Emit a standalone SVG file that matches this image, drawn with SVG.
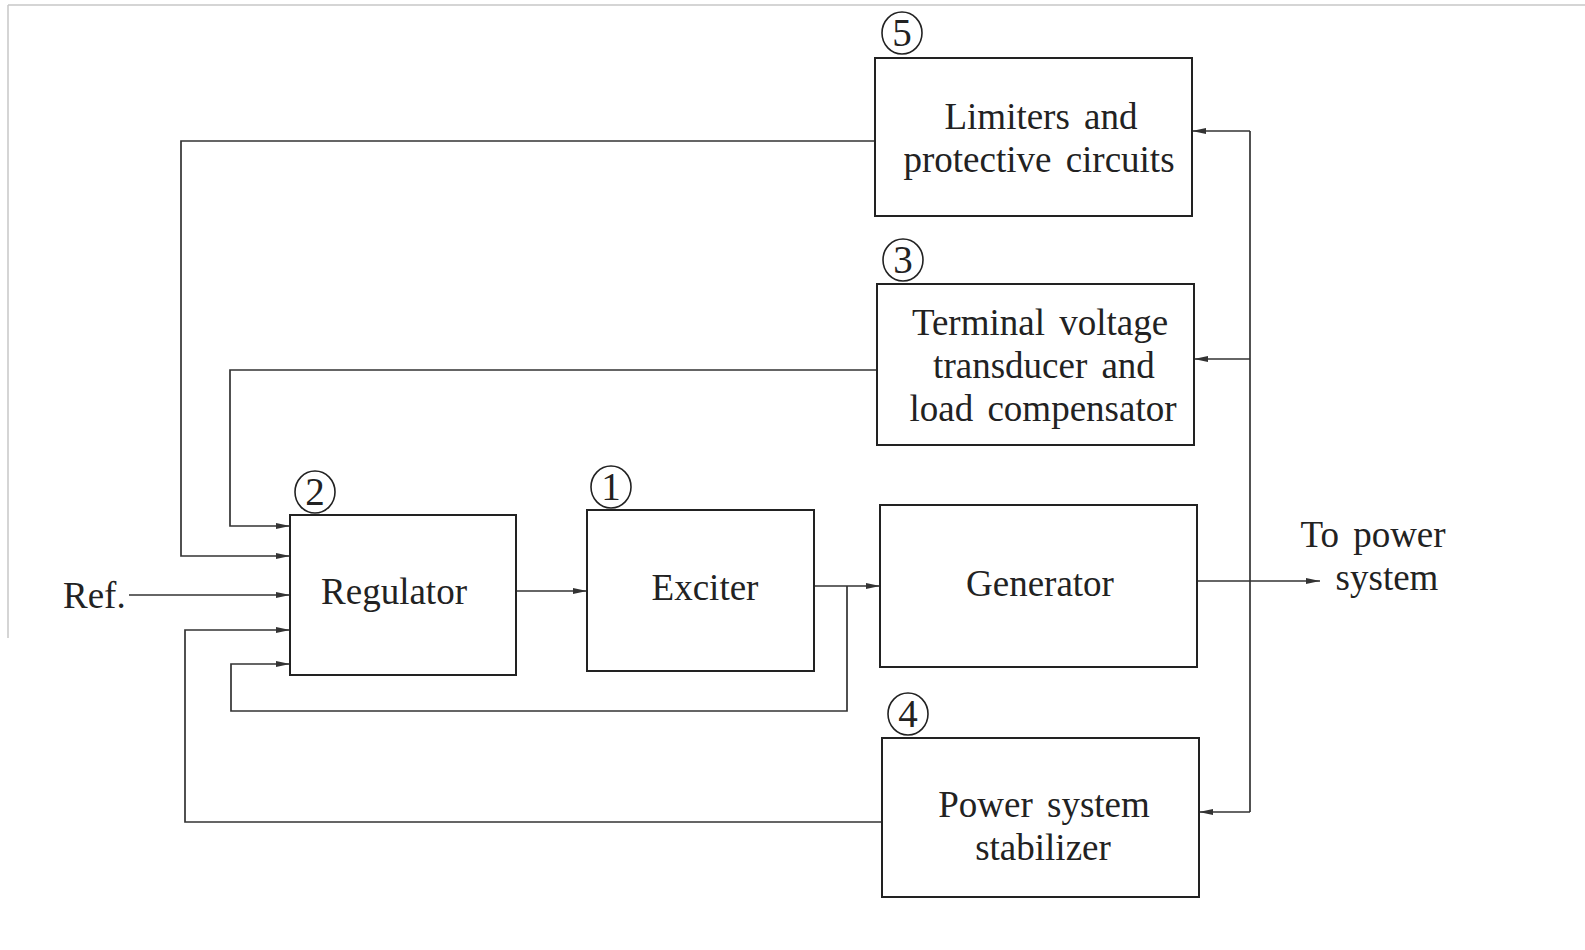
<svg xmlns="http://www.w3.org/2000/svg" width="1585" height="950" viewBox="0 0 1585 950">
<style>
.box{fill:#fff;stroke:#222;stroke-width:2}
.ln{fill:none;stroke:#333;stroke-width:1.7}
.t{font-family:"Liberation Serif","Times New Roman",serif;font-size:37px;fill:#222;text-anchor:middle;word-spacing:5px}
.num{font-family:"Liberation Serif","Times New Roman",serif;font-size:39px;fill:#222;text-anchor:middle}
.circ{fill:none;stroke:#222;stroke-width:1.6}
.scan{stroke:#c8c8c8;stroke-width:1.5;fill:none}
</style>
<defs>
<marker id="arr" markerWidth="15" markerHeight="8" refX="14" refY="4" orient="auto" markerUnits="userSpaceOnUse">
<path d="M0,1 L14,4 L0,7 Z" fill="#333"/>
</marker>
</defs>
<rect width="1585" height="950" fill="#fff"/>
<path class="scan" d="M8,5 H1585 M8,5 V638"/>

<g id="connectors">
<path class="ln" d="M875,141 H181 V556 H290" marker-end="url(#arr)"/>
<path class="ln" d="M877,370 H230 V526 H290" marker-end="url(#arr)"/>
<path class="ln" d="M129,595 H290" marker-end="url(#arr)"/>
<path class="ln" d="M882,822 H185 V630 H290" marker-end="url(#arr)"/>
<path class="ln" d="M515,591 H587" marker-end="url(#arr)"/>
<path class="ln" d="M814,586 H880" marker-end="url(#arr)"/>
<path class="ln" d="M847,586 V711 H231 V664 H290" marker-end="url(#arr)"/>
<path class="ln" d="M1197,581 H1320" marker-end="url(#arr)"/>
<path class="ln" d="M1250,131 V812"/>
<path class="ln" d="M1250,131 H1192" marker-end="url(#arr)"/>
<path class="ln" d="M1250,359 H1194" marker-end="url(#arr)"/>
<path class="ln" d="M1250,812 H1199" marker-end="url(#arr)"/>
</g>

<g id="limiters">
<rect class="box" x="875" y="58" width="317" height="158"/>
<ellipse class="circ" cx="902" cy="33" rx="20" ry="21"/>
<text class="num" x="902" y="46">5</text>
<text class="t" x="1041" y="129">Limiters and</text>
<text class="t" x="1039" y="172">protective circuits</text>
</g>

<g id="transducer">
<rect class="box" x="877" y="284" width="317" height="161"/>
<ellipse class="circ" cx="903" cy="260" rx="20" ry="21"/>
<text class="num" x="903" y="273">3</text>
<text class="t" x="1040" y="335">Terminal voltage</text>
<text class="t" x="1044" y="378">transducer and</text>
<text class="t" x="1043" y="421">load compensator</text>
</g>

<g id="regulator">
<rect class="box" x="290" y="515" width="226" height="160"/>
<ellipse class="circ" cx="315" cy="492" rx="20" ry="21"/>
<text class="num" x="315" y="505">2</text>
<text class="t" x="394" y="604">Regulator</text>
</g>

<g id="exciter">
<rect class="box" x="587" y="510" width="227" height="161"/>
<ellipse class="circ" cx="611" cy="487" rx="20" ry="21"/>
<text class="num" x="611" y="500">1</text>
<text class="t" x="705" y="600">Exciter</text>
</g>

<g id="generator">
<rect class="box" x="880" y="505" width="317" height="162"/>
<text class="t" x="1040" y="596">Generator</text>
</g>

<g id="pss">
<rect class="box" x="882" y="738" width="317" height="159"/>
<ellipse class="circ" cx="908" cy="714" rx="20" ry="21"/>
<text class="num" x="908" y="727">4</text>
<text class="t" x="1044" y="817">Power system</text>
<text class="t" x="1043" y="860">stabilizer</text>
</g>

<g id="labels">
<text class="t" x="63" y="608" style="text-anchor:start">Ref.</text>
<text class="t" x="1373" y="547">To power</text>
<text class="t" x="1387" y="590">system</text>
</g>
</svg>
